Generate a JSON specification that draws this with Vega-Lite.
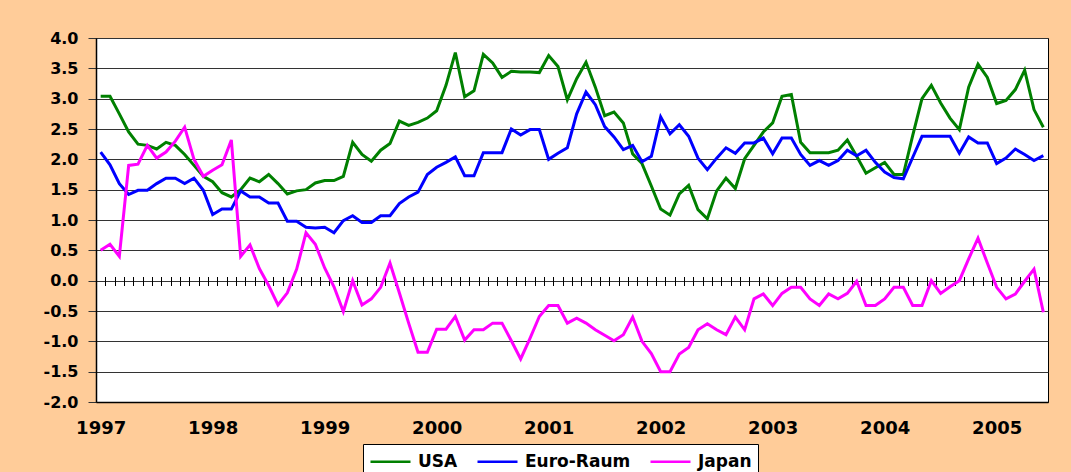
{
"$schema": "https://vega.github.io/schema/vega-lite/v6.json",
"width": 952,
"height": 364,
"autosize": {"type": "none"},
"padding": {"left": 96, "top": 38, "right": 23, "bottom": 70},
"background": "#FFCC99",
"config": {"view": {"fill": "white", "stroke": "black", "strokeWidth": 1}, "font": "DejaVu Sans"},
"data": {"values": [
{"m":"1997-01","USA":3.04,"Euro-Raum":2.12,"Japan":0.5},
{"m":"1997-02","USA":3.04,"Euro-Raum":1.91,"Japan":0.6},
{"m":"1997-03","USA":2.75,"Euro-Raum":1.6,"Japan":0.4},
{"m":"1997-04","USA":2.45,"Euro-Raum":1.42,"Japan":1.9},
{"m":"1997-05","USA":2.25,"Euro-Raum":1.49,"Japan":1.92},
{"m":"1997-06","USA":2.23,"Euro-Raum":1.49,"Japan":2.23},
{"m":"1997-07","USA":2.17,"Euro-Raum":1.6,"Japan":2.02},
{"m":"1997-08","USA":2.28,"Euro-Raum":1.69,"Japan":2.12},
{"m":"1997-09","USA":2.23,"Euro-Raum":1.69,"Japan":2.3},
{"m":"1997-10","USA":2.08,"Euro-Raum":1.6,"Japan":2.53},
{"m":"1997-11","USA":1.9,"Euro-Raum":1.69,"Japan":2.0},
{"m":"1997-12","USA":1.72,"Euro-Raum":1.49,"Japan":1.72},
{"m":"1998-01","USA":1.63,"Euro-Raum":1.09,"Japan":1.82},
{"m":"1998-02","USA":1.45,"Euro-Raum":1.18,"Japan":1.91},
{"m":"1998-03","USA":1.38,"Euro-Raum":1.18,"Japan":2.32},
{"m":"1998-04","USA":1.5,"Euro-Raum":1.48,"Japan":0.4},
{"m":"1998-05","USA":1.69,"Euro-Raum":1.38,"Japan":0.59},
{"m":"1998-06","USA":1.63,"Euro-Raum":1.38,"Japan":0.2},
{"m":"1998-07","USA":1.75,"Euro-Raum":1.28,"Japan":-0.08},
{"m":"1998-08","USA":1.6,"Euro-Raum":1.28,"Japan":-0.4},
{"m":"1998-09","USA":1.43,"Euro-Raum":0.98,"Japan":-0.2},
{"m":"1998-10","USA":1.48,"Euro-Raum":0.98,"Japan":0.19},
{"m":"1998-11","USA":1.5,"Euro-Raum":0.88,"Japan":0.79},
{"m":"1998-12","USA":1.61,"Euro-Raum":0.87,"Japan":0.6},
{"m":"1999-01","USA":1.65,"Euro-Raum":0.88,"Japan":0.21},
{"m":"1999-02","USA":1.65,"Euro-Raum":0.79,"Japan":-0.1},
{"m":"1999-03","USA":1.72,"Euro-Raum":0.99,"Japan":-0.51},
{"m":"1999-04","USA":2.28,"Euro-Raum":1.07,"Japan":0.0},
{"m":"1999-05","USA":2.08,"Euro-Raum":0.96,"Japan":-0.4},
{"m":"1999-06","USA":1.97,"Euro-Raum":0.96,"Japan":-0.3},
{"m":"1999-07","USA":2.15,"Euro-Raum":1.07,"Japan":-0.11},
{"m":"1999-08","USA":2.26,"Euro-Raum":1.07,"Japan":0.29},
{"m":"1999-09","USA":2.63,"Euro-Raum":1.27,"Japan":-0.2},
{"m":"1999-10","USA":2.56,"Euro-Raum":1.38,"Japan":-0.7},
{"m":"1999-11","USA":2.61,"Euro-Raum":1.46,"Japan":-1.18},
{"m":"1999-12","USA":2.68,"Euro-Raum":1.75,"Japan":-1.18},
{"m":"2000-01","USA":2.8,"Euro-Raum":1.87,"Japan":-0.8},
{"m":"2000-02","USA":3.22,"Euro-Raum":1.95,"Japan":-0.8},
{"m":"2000-03","USA":3.76,"Euro-Raum":2.04,"Japan":-0.59},
{"m":"2000-04","USA":3.03,"Euro-Raum":1.73,"Japan":-0.98},
{"m":"2000-05","USA":3.13,"Euro-Raum":1.73,"Japan":-0.81},
{"m":"2000-06","USA":3.73,"Euro-Raum":2.11,"Japan":-0.81},
{"m":"2000-07","USA":3.59,"Euro-Raum":2.11,"Japan":-0.7},
{"m":"2000-08","USA":3.35,"Euro-Raum":2.11,"Japan":-0.7},
{"m":"2000-09","USA":3.45,"Euro-Raum":2.5,"Japan":-0.99},
{"m":"2000-10","USA":3.44,"Euro-Raum":2.4,"Japan":-1.29},
{"m":"2000-11","USA":3.44,"Euro-Raum":2.49,"Japan":-0.95},
{"m":"2000-12","USA":3.43,"Euro-Raum":2.49,"Japan":-0.59},
{"m":"2001-01","USA":3.71,"Euro-Raum":2.0,"Japan":-0.41},
{"m":"2001-02","USA":3.53,"Euro-Raum":2.1,"Japan":-0.41},
{"m":"2001-03","USA":2.98,"Euro-Raum":2.19,"Japan":-0.7},
{"m":"2001-04","USA":3.33,"Euro-Raum":2.75,"Japan":-0.62},
{"m":"2001-05","USA":3.6,"Euro-Raum":3.11,"Japan":-0.7},
{"m":"2001-06","USA":3.19,"Euro-Raum":2.9,"Japan":-0.81},
{"m":"2001-07","USA":2.72,"Euro-Raum":2.54,"Japan":-0.9},
{"m":"2001-08","USA":2.78,"Euro-Raum":2.37,"Japan":-0.99},
{"m":"2001-09","USA":2.6,"Euro-Raum":2.16,"Japan":-0.89},
{"m":"2001-10","USA":2.09,"Euro-Raum":2.23,"Japan":-0.6},
{"m":"2001-11","USA":1.93,"Euro-Raum":1.96,"Japan":-1.0},
{"m":"2001-12","USA":1.56,"Euro-Raum":2.05,"Japan":-1.2},
{"m":"2002-01","USA":1.18,"Euro-Raum":2.7,"Japan":-1.5},
{"m":"2002-02","USA":1.08,"Euro-Raum":2.42,"Japan":-1.5},
{"m":"2002-03","USA":1.43,"Euro-Raum":2.57,"Japan":-1.21},
{"m":"2002-04","USA":1.57,"Euro-Raum":2.38,"Japan":-1.1},
{"m":"2002-05","USA":1.17,"Euro-Raum":2.02,"Japan":-0.81},
{"m":"2002-06","USA":1.02,"Euro-Raum":1.83,"Japan":-0.71},
{"m":"2002-07","USA":1.48,"Euro-Raum":2.02,"Japan":-0.81},
{"m":"2002-08","USA":1.69,"Euro-Raum":2.19,"Japan":-0.89},
{"m":"2002-09","USA":1.52,"Euro-Raum":2.1,"Japan":-0.6},
{"m":"2002-10","USA":2.01,"Euro-Raum":2.27,"Japan":-0.81},
{"m":"2002-11","USA":2.23,"Euro-Raum":2.27,"Japan":-0.3},
{"m":"2002-12","USA":2.45,"Euro-Raum":2.35,"Japan":-0.22},
{"m":"2003-01","USA":2.6,"Euro-Raum":2.09,"Japan":-0.41},
{"m":"2003-02","USA":3.04,"Euro-Raum":2.35,"Japan":-0.21},
{"m":"2003-03","USA":3.07,"Euro-Raum":2.35,"Japan":-0.11},
{"m":"2003-04","USA":2.28,"Euro-Raum":2.08,"Japan":-0.11},
{"m":"2003-05","USA":2.11,"Euro-Raum":1.9,"Japan":-0.3},
{"m":"2003-06","USA":2.11,"Euro-Raum":1.98,"Japan":-0.41},
{"m":"2003-07","USA":2.11,"Euro-Raum":1.9,"Japan":-0.22},
{"m":"2003-08","USA":2.15,"Euro-Raum":1.98,"Japan":-0.3},
{"m":"2003-09","USA":2.32,"Euro-Raum":2.15,"Japan":-0.21},
{"m":"2003-10","USA":2.05,"Euro-Raum":2.06,"Japan":-0.01},
{"m":"2003-11","USA":1.77,"Euro-Raum":2.15,"Japan":-0.41},
{"m":"2003-12","USA":1.86,"Euro-Raum":1.95,"Japan":-0.41},
{"m":"2004-01","USA":1.95,"Euro-Raum":1.79,"Japan":-0.3},
{"m":"2004-02","USA":1.75,"Euro-Raum":1.7,"Japan":-0.11},
{"m":"2004-03","USA":1.75,"Euro-Raum":1.68,"Japan":-0.11},
{"m":"2004-04","USA":2.39,"Euro-Raum":2.03,"Japan":-0.41},
{"m":"2004-05","USA":3.0,"Euro-Raum":2.38,"Japan":-0.41},
{"m":"2004-06","USA":3.22,"Euro-Raum":2.38,"Japan":0.0},
{"m":"2004-07","USA":2.93,"Euro-Raum":2.38,"Japan":-0.21},
{"m":"2004-08","USA":2.68,"Euro-Raum":2.38,"Japan":-0.1},
{"m":"2004-09","USA":2.49,"Euro-Raum":2.1,"Japan":0.0},
{"m":"2004-10","USA":3.19,"Euro-Raum":2.37,"Japan":0.36},
{"m":"2004-11","USA":3.57,"Euro-Raum":2.27,"Japan":0.7},
{"m":"2004-12","USA":3.35,"Euro-Raum":2.27,"Japan":0.29},
{"m":"2005-01","USA":2.92,"Euro-Raum":1.93,"Japan":-0.11},
{"m":"2005-02","USA":2.97,"Euro-Raum":2.02,"Japan":-0.3},
{"m":"2005-03","USA":3.15,"Euro-Raum":2.17,"Japan":-0.22},
{"m":"2005-04","USA":3.47,"Euro-Raum":2.08,"Japan":-0.01},
{"m":"2005-05","USA":2.82,"Euro-Raum":1.98,"Japan":0.19},
{"m":"2005-06","USA":2.53,"Euro-Raum":2.06,"Japan":-0.52}
]},
"transform": [{"fold": ["USA", "Euro-Raum", "Japan"], "as": ["s", "v"]}],
"layer": [
{
"mark": {"type": "line", "strokeWidth": 3},
"encoding": {
"x": {"field": "m", "type": "ordinal", "scale": {"type": "point", "padding": 0.5},
"axis": {"title": null, "orient": "bottom", "values": ["1997-01","1998-01","1999-01","2000-01","2001-01","2002-01","2003-01","2004-01","2005-01"],
"labelExpr": "slice(datum.value, 0, 4)", "ticks": false, "domain": true, "domainColor": "black", "domainWidth": 1.5,
"labelPadding": 17, "labelFontSize": 18, "labelFontWeight": "bold", "labelColor": "black", "labelAngle": 0, "grid": false}},
"y": {"field": "v", "type": "quantitative", "scale": {"domain": [-2, 4], "nice": false, "zero": false},
"axis": {"title": null, "values": [-2,-1.5,-1,-0.5,0,0.5,1,1.5,2,2.5,3,3.5,4],
"labelExpr": "datum.value < 0 ? '-' + format(-datum.value, '.1f') : format(datum.value, '.1f')",
"grid": true, "gridColor": "#333333", "gridWidth": 1, "tickSize": 8, "tickColor": "#333333",
"domainColor": "black", "domainWidth": 1.5, "labelPadding": 10, "labelFontSize": 16, "labelFontWeight": "bold", "labelColor": "black"}},
"color": {"field": "s", "type": "nominal",
"scale": {"domain": ["USA", "Euro-Raum", "Japan"], "range": ["#008000", "#0000FF", "#FF00FF"]},
"legend": {"title": null, "orient": "none", "legendX": 267, "legendY": 406, "direction": "horizontal",
"fillColor": "white", "strokeColor": "black", "padding": 6, "symbolType": "M-1,0H3", "symbolSize": 400,
"symbolStrokeWidth": 2.5, "labelFontSize": 17, "labelFontWeight": "bold", "labelColor": "black",
"columnPadding": 14, "labelOffset": 26, "cornerRadius": 0}}
}
},
{
"mark": {"type": "line", "opacity": 0},
"encoding": {
"x": {"field": "m", "type": "ordinal", "scale": {"type": "point", "padding": 0.5},
"axis": {"title": null, "orient": "top", "labels": false, "domain": false, "grid": false, "ticks": true, "tickSize": 9,
"tickColor": "black", "tickWidth": 1, "tickOffset": 4.667, "offset": -247.5}}
}
}
],
"resolve": {"axis": {"x": "independent"}}
}
